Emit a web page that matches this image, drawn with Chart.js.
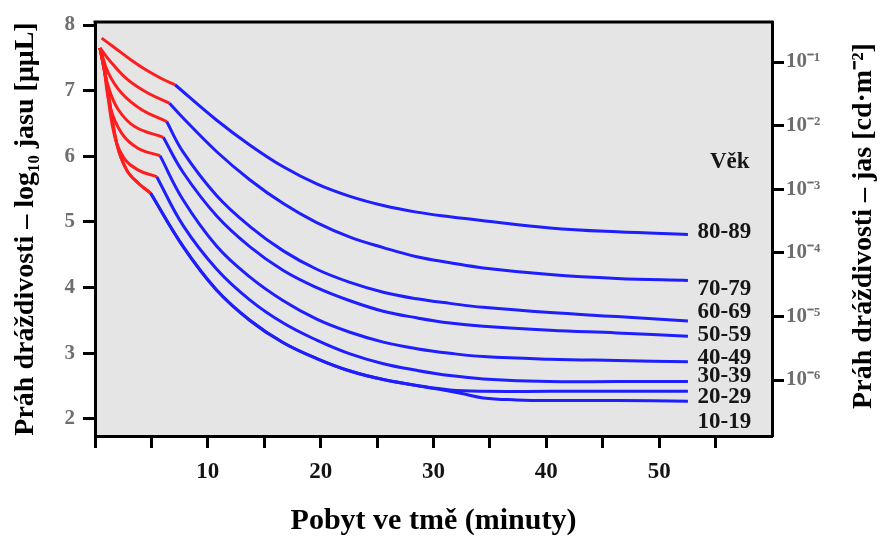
<!DOCTYPE html>
<html><head><meta charset="utf-8">
<script src="https://cdn.jsdelivr.net/npm/chart.js@4.4.1/dist/chart.umd.min.js"></script>
<style>html,body{margin:0;padding:0;background:#fff;}canvas{display:block;}</style>
</head><body>
<canvas id="c" width="884" height="538"></canvas>
<script>
// ---- data (x: minutes in the dark, y: log10 threshold, left axis units) ----
const ageGroups = ['80-89','70-79','60-69','50-59','40-49','30-39','20-29','10-19'];
const xTicks = [0,5,10,15,20,25,30,35,40,45,50,55,60];
const xLabelled = [10,20,30,40,50];
const leftTicks = [2,3,4,5,6,7,8];
const rightTicks = [-6,-5,-4,-3,-2,-1];   // exponents of cd·m⁻²

// red = cone branch, blue = rod branch
const red80X = [0.59, 1.62, 3.10, 4.58, 6.05, 7.09];
const red80Y = [7.80, 7.67, 7.48, 7.31, 7.17, 7.09];
const blue80X = [7.09, 10.79, 13.74, 16.69, 19.65, 22.60, 25.55, 28.51, 31.46, 34.41, 40.33, 46.24, 52.55];
const blue80Y = [7.09, 6.55, 6.17, 5.84, 5.58, 5.39, 5.25, 5.15, 5.08, 5.02, 4.91, 4.85, 4.81];

const red70X = [0.44, 1.48, 2.95, 4.72, 6.60];
const red70Y = [7.65, 7.42, 7.16, 6.96, 6.81];
const blue70X = [6.60, 7.83, 10.79, 13.74, 16.69, 19.65, 22.60, 25.55, 28.51, 31.46, 34.41, 40.33, 46.24, 52.55];
const blue70Y = [6.81, 6.58, 6.07, 5.64, 5.28, 4.99, 4.77, 4.61, 4.47, 4.38, 4.30, 4.20, 4.14, 4.11];

const red60X = [0.44, 1.18, 2.37, 4.14, 6.35];
const red60Y = [7.65, 7.27, 6.96, 6.71, 6.53];
const blue60X = [6.35, 7.83, 10.79, 13.74, 16.69, 19.65, 22.60, 25.55, 28.51, 31.46, 34.41, 40.33, 46.24, 52.55];
const blue60Y = [6.53, 6.06, 5.40, 4.93, 4.56, 4.28, 4.08, 3.93, 3.83, 3.76, 3.70, 3.62, 3.56, 3.49];

const red50X = [0.44, 0.59, 1.18, 2.07, 3.55, 6.05];
const red50Y = [7.65, 7.52, 7.06, 6.71, 6.45, 6.29];
const blue50X = [6.05, 7.83, 10.79, 13.74, 16.69, 19.65, 22.60, 25.55, 28.51, 31.46, 34.41, 40.33, 46.24, 52.55];
const blue50Y = [6.29, 5.75, 5.09, 4.62, 4.26, 4.00, 3.80, 3.64, 3.54, 3.46, 3.41, 3.35, 3.31, 3.26];

const red40X = [0.44, 0.74, 1.33, 2.37, 3.84, 5.76];
const red40Y = [7.65, 7.42, 6.76, 6.35, 6.12, 6.01];
const blue40X = [5.76, 7.83, 10.79, 13.74, 16.69, 19.65, 22.60, 25.55, 28.51, 31.46, 34.41, 40.33, 46.24, 52.55];
const blue40Y = [6.01, 5.33, 4.63, 4.16, 3.80, 3.52, 3.32, 3.17, 3.07, 3.00, 2.95, 2.91, 2.89, 2.87];

const red30X = [0.44, 0.89, 1.62, 2.51, 3.84, 5.47];
const red30Y = [7.65, 7.27, 6.40, 5.99, 5.79, 5.69];
const blue30X = [5.47, 7.83, 10.79, 13.74, 16.69, 19.65, 22.60, 25.55, 28.51, 31.46, 34.41, 40.33, 46.24, 52.55];
const blue30Y = [5.69, 4.94, 4.28, 3.81, 3.46, 3.20, 2.99, 2.84, 2.74, 2.66, 2.61, 2.57, 2.57, 2.57];

const red20X = [0.44, 1.04, 1.92, 2.81, 3.84, 4.92];
const red20Y = [7.65, 7.11, 6.20, 5.79, 5.59, 5.44];
const blue20X = [4.92, 7.83, 10.79, 13.74, 16.69, 19.65, 22.60, 25.55, 28.51, 31.46, 34.41, 40.33, 46.24, 52.55];
const blue20Y = [5.44, 4.62, 3.96, 3.50, 3.16, 2.92, 2.73, 2.60, 2.51, 2.44, 2.42, 2.42, 2.42, 2.42];

const red10X = [0.44, 1.04, 1.92, 2.81, 3.84, 4.92];
const red10Y = [7.65, 7.11, 6.20, 5.79, 5.59, 5.44];
const blue10X = [4.92, 7.83, 10.79, 13.74, 16.69, 19.65, 22.60, 25.55, 28.51, 30.50, 32.40, 34.41, 37.37, 40.33, 46.24, 52.55];
const blue10Y = [5.44, 4.62, 3.96, 3.50, 3.16, 2.92, 2.73, 2.60, 2.51, 2.45, 2.39, 2.32, 2.29, 2.28, 2.28, 2.27];

// where the age labels sit (left-axis units) and the header
const labelY = [4.85, 3.98, 3.63, 3.28, 2.93, 2.65, 2.34, 1.95];
const labelX = 53.4;
const headerText = 'Věk';
const headerX = 54.5;
const headerY = 5.92;

// ---- build chart ----
const RED = '#ff1e1e', BLUE = '#1e1eff';
const SERIF = '"Liberation Serif","Times New Roman",serif';
const pts = (xs, ys) => xs.map((x, i) => ({x: x, y: ys[i]}));
const series = [
  [red80X, red80Y, blue80X, blue80Y],
  [red70X, red70Y, blue70X, blue70Y],
  [red60X, red60Y, blue60X, blue60Y],
  [red50X, red50Y, blue50X, blue50Y],
  [red40X, red40Y, blue40X, blue40Y],
  [red30X, red30Y, blue30X, blue30Y],
  [red20X, red20Y, blue20X, blue20Y],
  [red10X, red10Y, blue10X, blue10Y]
];
const datasets = [];
series.forEach((s, i) => {
  datasets.push({label: ageGroups[i] + ' čípky', data: pts(s[0], s[1]), borderColor: RED});
  datasets.push({label: ageGroups[i] + ' tyčinky', data: pts(s[2], s[3]), borderColor: BLUE});
});
datasets.forEach(d => Object.assign(d, {showLine: true, pointRadius: 0, borderWidth: 3, tension: 0.4, fill: false}));

const sup = {'-':'⁻','0':'⁰','1':'¹','2':'²','3':'³','4':'⁴','5':'⁵','6':'⁶','7':'⁷','8':'⁸','9':'⁹'};
const toSup = n => String(n).split('').map(c => sup[c]).join('');

const framePlugin = {
  id: 'frame',
  beforeDraw(chart) {
    const {ctx, chartArea: a} = chart;
    ctx.save();
    ctx.fillStyle = '#e5e5e5';
    ctx.fillRect(a.left, a.top, a.right - a.left, a.bottom - a.top);
    ctx.restore();
  },
  afterDraw(chart) {
    const {ctx, chartArea: a, scales} = chart;
    ctx.save();
    ctx.strokeStyle = '#000';
    ctx.lineWidth = 3;
    ctx.beginPath();
    ctx.moveTo(a.left - 1.5, a.top);
    ctx.lineTo(a.right + 1.5, a.top);
    ctx.stroke();
    // age labels
    ctx.fillStyle = '#161616';
    ctx.font = 'bold 23px ' + SERIF;
    ctx.textAlign = 'left';
    ctx.textBaseline = 'middle';
    const xs = scales.x, ys = scales.y;
    ageGroups.forEach((g, i) => ctx.fillText(g, xs.getPixelForValue(labelX), ys.getPixelForValue(labelY[i])));
    ctx.fillText(headerText, xs.getPixelForValue(headerX), ys.getPixelForValue(headerY));
    // right axis title, reading bottom to top
    ctx.fillStyle = '#000';
    ctx.font = 'bold 28px ' + SERIF;
    ctx.textAlign = 'center';
    ctx.translate(864, (a.top + a.bottom) / 2 - 3);
    ctx.rotate(-Math.PI / 2);
    ctx.fillText('Práh dráždivosti – jas [cd·m⁻²]', 0, 0);
    ctx.restore();
  }
};

new Chart(document.getElementById('c'), {
  type: 'scatter',
  data: {datasets: datasets},
  options: {
    responsive: false,
    animation: false,
    devicePixelRatio: 1,
    layout: {padding: {top: 22, left: 0, right: 0, bottom: 0}},
    plugins: {legend: {display: false}, tooltip: {enabled: false}},
    scales: {
      x: {
        type: 'linear', position: 'bottom', min: 0, max: 60,
        afterFit: s => { s.height = 102; },
        afterBuildTicks: s => { s.ticks = xTicks.map(v => ({value: v})); },
        ticks: {
          autoSkip: false, maxRotation: 0, padding: 10, color: '#141414',
          font: {family: SERIF, size: 23, weight: 'bold'},
          callback: v => xLabelled.includes(v) ? String(v) : ''
        },
        grid: {drawOnChartArea: false, drawTicks: true, tickLength: 12, tickWidth: 3,
               tickColor: c => (c.tick && c.tick.value === 60) ? 'rgba(0,0,0,0)' : '#000'},
        border: {display: true, color: '#000', width: 3},
        title: {display: true, text: 'Pobyt ve tmě (minuty)', color: '#000',
                font: {family: SERIF, size: 30, weight: 'bold', lineHeight: 1.1},
                padding: {top: 0, bottom: 0}}
      },
      y: {
        type: 'linear', position: 'left', min: 1.74, max: 8.046,
        afterFit: s => { s.width = 95; },
        afterBuildTicks: s => { s.ticks = leftTicks.map(v => ({value: v})); },
        ticks: {padding: 8, color: '#6e6e6e', font: {family: SERIF, size: 21, weight: 'bold'}},
        grid: {drawOnChartArea: false, drawTicks: true, tickLength: 12, tickWidth: 3, tickColor: '#000'},
        border: {display: true, color: '#000', width: 3},
        title: {display: true, text: 'Práh dráždivosti – log₁₀ jasu [μμL]', color: '#000',
                font: {family: SERIF, size: 28, weight: 'bold', lineHeight: 1.2},
                padding: {top: 9, bottom: 0}}
      },
      y2: {
        type: 'linear', position: 'right', min: -6.88, max: -0.371,
        afterFit: s => { s.width = 112; },
        afterBuildTicks: s => { s.ticks = rightTicks.map(v => ({value: v})); },
        ticks: {padding: 2, color: '#6e6e6e', font: {family: SERIF, size: 21, weight: 'bold'},
                callback: v => '10' + toSup(v)},
        grid: {drawOnChartArea: false, drawTicks: true, tickLength: 12, tickWidth: 3, tickColor: '#000'},
        border: {display: true, color: '#000', width: 3}
      }
    }
  },
  plugins: [framePlugin]
});
</script>
</body></html>
